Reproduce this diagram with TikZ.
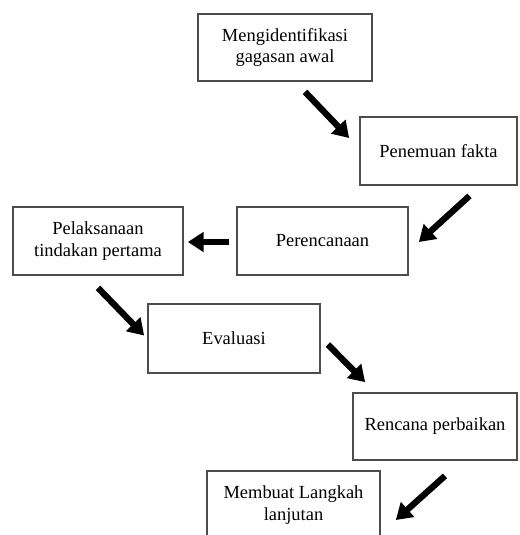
\documentclass[tikz,border=0pt]{standalone}
\usepackage{fontspec}
\setmainfont{Liberation Serif}
\usepackage{tikz}
\usetikzlibrary {arrows.meta}

\begin{document}
\begin{tikzpicture}[x = 0.02cm, y = -0.02cm,
    box/.style = {draw = black!70, line width = 1pt, align = center, inner sep = 0pt,
        font = \fontsize{10.5}{12.5}\selectfont},
    flow/.style = {line width = 3.6pt, -{Triangle[length = 9pt, width = 11pt]}}]

        \clip (0,0) rectangle (520,535);

%mark centres of boxes
        \coordinate (I) at (285,47.5);
        \coordinate (F) at (438.5,151);
        \coordinate (R) at (322.5,241);
        \coordinate (T) at (98,241);
        \coordinate (E) at (234,338.5);
        \coordinate (P) at (435,426.5);
        \coordinate (L) at (293.5,505);

        \node[box, minimum width = 3.48cm, minimum height = 1.34cm] (idea) at (I) {Mengidentifikasi\\gagasan awal};
        \node[box, minimum width = 3.14cm, minimum height = 1.36cm] (fact) at (F) {Penemuan fakta};
        \node[box, minimum width = 3.42cm, minimum height = 1.36cm] (plan) at (R) {Perencanaan};
        \node[box, minimum width = 3.40cm, minimum height = 1.36cm] (act) at (T) {Pelaksanaan\\tindakan pertama};
        \node[box, minimum width = 3.44cm, minimum height = 1.38cm] (eval) at (E) {Evaluasi};
        \node[box, minimum width = 3.28cm, minimum height = 1.34cm] (fix) at (P) {Rencana perbaikan};
        \node[box, minimum width = 3.46cm, minimum height = 1.36cm] (next) at (L) {Membuat Langkah\\lanjutan};

        %arrows between boxes

        \draw[flow] ([shift = {(20,10)}]idea.south) -- ([shift = {(-10,-13)}]fact.west);
        \draw[flow] ([shift = {(31,10)}]fact.south) -- ([shift = {(10,1)}]plan.east);
        \draw[flow] ([shift = {(-7,1)}]plan.west) -- ([shift = {(4,1)}]act.east);
        \draw[flow] ([shift = {(0,12)}]act.south) -- ([shift = {(-3,-3)}]eval.west);
        \draw[flow] ([shift = {(7,6)}]eval.east) -- ([shift = {(13,-10)}]fix.north west);
        \draw[flow] ([shift = {(10,15)}]fix.south) -- ([shift = {(15,15)}]next.east);
\end{tikzpicture}
\end{document}
